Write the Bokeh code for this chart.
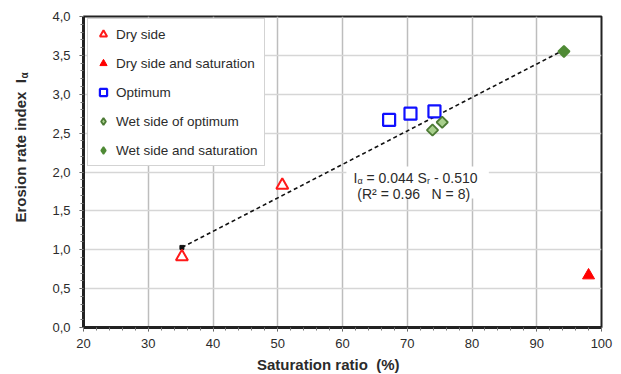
import numpy as np
from bokeh.plotting import figure
from bokeh.models import (Legend, LegendItem, Label, BoxAnnotation, SingleIntervalTicker, Range1d)
from bokeh.embed import file_html
from bokeh.resources import INLINE

# ---- data ----
dry_x = [35.2, 50.7]
dry_y = [0.91, 1.83]
drysat_x = [98.0]
drysat_y = [0.67]
opt_x = [67.2, 70.5, 74.2]
opt_y = [2.67, 2.75, 2.78]
wet_x = [73.9, 75.4]
wet_y = [2.54, 2.64]
wetsat_x = [94.2]
wetsat_y = [3.55]
fit_x = [35.2, 94.2]
fit_y = [1.03, 3.57]

y_ticks = [0.0, 0.5, 1.0, 1.5, 2.0, 2.5, 3.0, 3.5, 4.0]
y_tick_labels = ["0,0", "0,5", "1,0", "1,5", "2,0", "2,5", "3,0", "3,5", "4,0"]
x_ticks = [20, 30, 40, 50, 60, 70, 80, 90, 100]

FONT = "Liberation Sans"
TXT = "#2b2b2b"
NB = "\u00a0"

p = figure(width=621, height=374, output_backend="svg", toolbar_location=None,
           x_range=Range1d(20, 100), y_range=Range1d(0, 4),
           min_border_left=83, min_border_right=20, min_border_top=16, min_border_bottom=47)
p.background_fill_color = "white"
p.border_fill_color = "white"
p.outline_line_color = "#222222"
p.outline_line_width = 2

# axes
p.xaxis.ticker = SingleIntervalTicker(interval=10, num_minor_ticks=5)
p.yaxis.ticker = SingleIntervalTicker(interval=0.5, num_minor_ticks=5)
p.yaxis.major_label_overrides = {t: l for t, l in zip(y_ticks, y_tick_labels)}
for ax in (p.xaxis, p.yaxis):
    ax.axis_line_width = 3
    ax.axis_line_color = "#222222"
    ax.major_tick_in = 0
    ax.major_tick_out = 4
    ax.minor_tick_in = 0
    ax.minor_tick_out = 3
    ax.major_tick_line_color = "#555555"
    ax.minor_tick_line_color = "#777777"
    ax.major_label_text_font = FONT
    ax.major_label_text_font_size = "13px"
    ax.major_label_text_color = TXT
p.xaxis.major_label_standoff = 7
p.yaxis.major_label_standoff = 9

p.xgrid.ticker = SingleIntervalTicker(interval=10)
p.ygrid.ticker = SingleIntervalTicker(interval=0.5)
p.xgrid.grid_line_color = "#bdbdbd"
p.xgrid.grid_line_width = 1.5
p.ygrid.grid_line_color = "#d6d6d6"
p.ygrid.grid_line_width = 1.5

# white box behind the equation
p.add_layout(BoxAnnotation(left=60.6, right=82.6, bottom=1.66, top=2.07,
                           fill_color="white", fill_alpha=1.0, line_color=None, level="underlay"))

# fit line
p.line(fit_x, fit_y, line_color="#111111", line_width=1.6, line_dash="4 3")
p.scatter(fit_x[:1], fit_y[:1], marker="square", size=4, color="#111111")

# data
r_dry = p.scatter(dry_x, dry_y, marker="triangle", size=12, fill_color="white",
                  line_color="#ff1a1a", line_width=2)
r_drysat = p.scatter(drysat_x, drysat_y, marker="triangle", size=12, fill_color="#ff0000",
                     line_color="#ff0000", line_width=1)
r_opt = p.scatter(opt_x, opt_y, marker="square", size=12, fill_color="white",
                  line_color="#1010ff", line_width=2.2)
p.scatter(wet_x, wet_y, marker="square", size=8, angle=np.pi / 4, fill_color="#a8cf8c",
          line_color="#4c7a34", line_width=1.8)
p.scatter(wetsat_x, wetsat_y, marker="square", size=8, angle=np.pi / 4, fill_color="#4f8a35",
          line_color="#4f8a35", line_width=1.8)
# legend proxies (diamond shapes), hidden in the plot
r_wet = p.scatter(wet_x, wet_y, marker="diamond", size=10, fill_color="#a8cf8c",
                  line_color="#4c7a34", line_width=1.8, visible=False)
r_wetsat = p.scatter(wetsat_x, wetsat_y, marker="diamond", size=10, fill_color="#4f8a35",
                     line_color="#4f8a35", line_width=1.5, visible=False)

legend = Legend(items=[
    LegendItem(label="Dry side", renderers=[r_dry]),
    LegendItem(label="Dry side and saturation", renderers=[r_drysat]),
    LegendItem(label="Optimum", renderers=[r_opt]),
    LegendItem(label="Wet side of optimum", renderers=[r_wet]),
    LegendItem(label="Wet side and saturation", renderers=[r_wetsat]),
], location=(4, 161))
legend.padding = 6
legend.margin = 0
legend.spacing = 11
legend.glyph_width = 18
legend.glyph_height = 18
legend.label_height = 18
legend.label_standoff = 4
legend.label_text_font = FONT
legend.label_text_font_size = "13.5px"
legend.label_text_color = TXT
legend.border_line_color = "#a8a8a8"
legend.border_line_width = 1.5
legend.background_fill_color = "white"
legend.background_fill_alpha = 1.0
p.add_layout(legend, "center")

# equation text
eq_x = 61.7
eq_y = 1.918
pieces = [("I", 0.0, 0, "14px"), ("α", 3.9, -3, "9px"), ("=" + NB + "0.044" + NB + "S", 13.0, 0, "14px"),
          ("r", 73.5, -3, "9px"), ("-" + NB + "0.510", 80.4, 0, "14px")]
for txt, off, yoff, fs in pieces:
    p.add_layout(Label(x=eq_x, y=eq_y, x_offset=off, y_offset=yoff, text=txt,
                       text_font=FONT, text_font_size=fs, text_color=TXT,
                       text_baseline="alphabetic", text_align="left"))
p.add_layout(Label(x=71.0, y=1.712, text="(R² = 0.96" + NB + NB + NB + "N = 8)", text_font=FONT,
                   text_font_size="14px", text_color=TXT, text_baseline="alphabetic",
                   text_align="center"))

# axis titles (placed in the side panels so they are not clipped to the frame)
p.add_layout(Label(x=57.8, y=-0.476, text="Saturation ratio" + NB + NB + "(%)", text_font=FONT,
                   text_font_size="15px", text_font_style="bold", text_color=TXT,
                   text_align="center", text_baseline="middle"), "below")
p.add_layout(Label(x=10.2, y=1.35, angle=np.pi / 2, text="Erosion rate index" + NB + NB + "I",
                   text_font=FONT, text_font_size="15px", text_font_style="bold",
                   text_color=TXT, text_align="left", text_baseline="middle"), "left")
p.add_layout(Label(x=10.2, y=1.35 + 144 / 77.75, x_offset=4, angle=np.pi / 2, text="α",
                   text_font=FONT, text_font_size="10px", text_font_style="bold",
                   text_color=TXT, text_align="left", text_baseline="middle"), "left")

open("out.html", "w").write(file_html(p, INLINE))
